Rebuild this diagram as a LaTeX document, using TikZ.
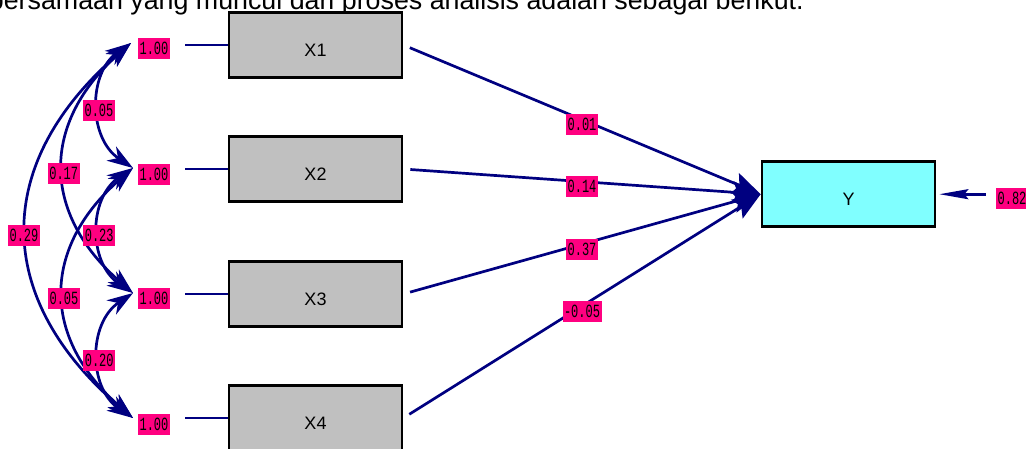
\documentclass[tikz,border=0pt]{standalone}
\usepackage{fontspec}
\setmainfont{Liberation Sans}
\newfontfamily\labfont{Liberation Mono}
\usetikzlibrary{arrows.meta}
\definecolor{pathblue}{RGB}{0,0,128}
\definecolor{labmag}{RGB}{255,0,128}
\definecolor{boxgray}{RGB}{192,192,192}
\definecolor{ycyan}{RGB}{128,255,255}
\newcommand\lab[1]{\scalebox{1}[1.55]{#1}}
\begin{document}
\begin{tikzpicture}[x=1pt,y=-1pt,
  varbox/.style={draw=black,line width=2.7pt,fill=boxgray,minimum width=173pt,
    minimum height=65pt,inner sep=0pt,text height=22pt,text depth=0pt,
    font=\fontsize{18}{18}\selectfont},
  ybox/.style={varbox,fill=ycyan},
  labbox/.style={fill=labmag,inner ysep=0pt,inner xsep=1.5pt,minimum width=30pt,
    minimum height=21pt,font=\labfont\fontsize{12}{12}\selectfont},
  onpath/.style={labbox,yshift=-5pt},
  pathline/.style={draw=pathblue,line width=2.7pt},
  patharrow/.style={pathline,-{Stealth[length=28pt,width=22pt,inset=5pt]},shorten <=7pt},
  covline/.style={pathline,{Stealth[length=26pt,width=17pt,inset=8pt]}-{Stealth[length=26pt,width=17pt,inset=8pt]}},
  errarrow/.style={pathline,-{Stealth[length=29pt,width=10pt,inset=4pt]},shorten <=10pt,shorten >=3pt}
]
\useasboundingbox (0,0) rectangle (1026,448);
\clip (0,0) rectangle (1026,448);

\node[anchor=base east,inner sep=0pt,font=\fontsize{26.8}{26.8}\selectfont] (title) at (804,9)
  {persamaan yang muncul dari proses analisis adalah sebagai berikut.};

% observed variables
\node[varbox] (X1) at (315.5,45) {X1};
\node[varbox] (X2) at (315.5,169) {X2};
\node[varbox] (X3) at (315.5,294) {X3};
\node[varbox] (X4) at (315.5,418) {X4};
\node[ybox] (Y) at (848.5,194.2) {Y};

% variance labels
\node[labbox] (e1) at (154,48) {\lab{1.00}};
\node[labbox] (e2) at (154,174) {\lab{1.00}};
\node[labbox] (e3) at (154,298) {\lab{1.00}};
\node[labbox] (e4) at (154,424) {\lab{1.00}};
\node[labbox] (e5) at (1012,198) {\lab{0.82}};

\draw[pathline,shorten >=15pt] (X1.west) -- (X1.west -| e1.east);
\draw[pathline,shorten >=15pt] (X2.west) -- (X2.west -| e2.east);
\draw[pathline,shorten >=15pt] (X3.west) -- (X3.west -| e3.east);
\draw[pathline,shorten >=15pt] (X4.west) -- (X4.west -| e4.east);

% arrow tips of covariances
\coordinate (t1) at (131,43);
\coordinate (t2) at (133,168);
\coordinate (t3) at (133,293);
\coordinate (t4) at (133,418);

\draw[covline] (t1) .. controls (-8,163) and (-8,298) .. (t4)
  node[pos=0.5,onpath,xshift=-3pt] (c14) {\lab{0.29}};
\draw[covline] (t1) .. controls (41,123) and (41,213) .. (t3)
  node[pos=0.5,onpath] (c13) {\lab{0.17}};
\draw[covline] (t2) .. controls (41,248) and (41,338) .. (t4)
  node[pos=0.5,onpath] (c24) {\lab{0.05}};
\draw[covline] (t1) .. controls (88,73) and (88,138) .. (t2)
  node[pos=0.5,onpath] (c12) {\lab{0.05}};
\draw[covline] (t2) .. controls (88,198) and (88,263) .. (t3)
  node[pos=0.5,onpath] (c23) {\lab{0.23}};
\draw[covline] (t3) .. controls (88,323) and (88,388) .. (t4)
  node[pos=0.5,onpath] (c34) {\lab{0.20}};

% structural paths
\draw[patharrow] (X1.east) -- (Y.west) node[pos=0.5,onpath] (p1) {\lab{0.01}};
\draw[patharrow] (X2.east) -- (Y.west) node[pos=0.5,onpath] (p2) {\lab{0.14}};
\draw[patharrow] (X3.east) -- (Y.west) node[pos=0.5,onpath] (p3) {\lab{0.37}};
\draw[patharrow] (X4.east) -- (Y.west) node[pos=0.5,onpath] (p4) {\lab{-0.05}};

% error
\draw[errarrow] (Y.east -| e5.west) -- (Y.east);
\end{tikzpicture}
\end{document}
